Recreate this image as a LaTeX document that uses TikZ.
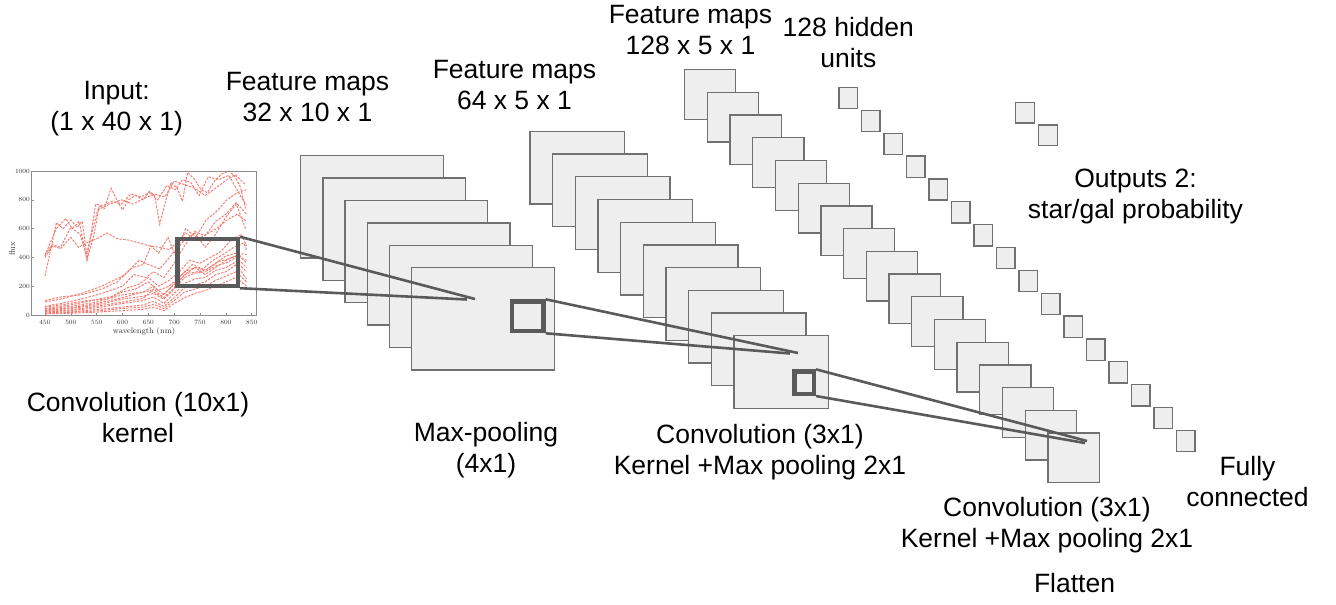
\documentclass[tikz,border=0pt]{standalone}
\usepackage{fontspec}
\newfontfamily\labelfont{Liberation Sans}
\usetikzlibrary{calc}
\definecolor{mapfill}{HTML}{EEEEEE}
\definecolor{mapline}{HTML}{707070}
\definecolor{kernline}{HTML}{5A5A5A}
\definecolor{spec}{RGB}{244,122,112}
\definecolor{axisgray}{HTML}{8C8C8C}

\begin{document}
\begin{tikzpicture}[x=1pt,y=-1pt,
  fmap/.style={draw=mapline, fill=mapfill, line width=1.3pt, inner sep=0pt, outer sep=0pt, rectangle},
  kern/.style={draw=kernline, line width=4.5pt, inner sep=0pt, rectangle, fill=none},
  link/.style={draw=kernline, line width=2.6pt},
  lbl/.style={font=\labelfont\fontsize{26.5}{31}\selectfont, align=center, inner sep=0pt, anchor=base},
  spectrum/.style={draw=spec, line width=0.95pt, dash pattern=on 2.4pt off 1.3pt},
  ticklbl/.style={font=\fontsize{6.5}{7}\selectfont, inner sep=0pt, text=black!80},
]
\useasboundingbox (0,0) rectangle (1336,605);

% ---------- input spectra plot ----------
\begin{scope}[shift={(-187.56,315)}, xscale=0.5168, yscale=-0.144]
  \draw[spectrum] plot coordinates {(450,270) (462,470) (472,640) (485,600) (500,660) (512,610) (522,650) (532,390) (545,560) (555,760) (565,740) (578,880) (590,790) (600,730) (612,800) (625,830) (640,800) (652,860) (662,830) (672,630) (684,800) (694,920) (706,880) (716,790) (726,990) (740,940) (752,870) (764,850) (778,930) (792,980) (806,1000) (818,960) (828,890) (838,740)};
  \draw[spectrum] plot coordinates {(450,410) (460,500) (472,600) (490,670) (503,600) (516,650) (531,380) (548,770) (562,760) (580,790) (598,770) (616,840) (636,820) (652,850) (668,800) (686,900) (702,870) (716,940) (732,920) (748,830) (766,960) (786,940) (806,970) (826,840) (840,760)};
  \draw[spectrum] plot coordinates {(450,420) (465,490) (480,470) (500,610) (518,560) (530,420) (552,730) (575,770) (598,800) (620,770) (642,810) (662,840) (682,820) (700,930) (720,905) (740,880) (760,830) (780,880) (800,935) (818,975) (838,905)};
  \draw[spectrum] plot coordinates {(450,400) (465,480) (480,460) (500,540) (515,470) (530,500) (550,530) (570,570) (590,530) (612,520) (632,500) (652,480) (672,470) (690,455) (705,500) (722,570) (742,520) (762,560) (782,600) (802,660) (822,700) (840,650)};
  \draw[spectrum] plot coordinates {(450,90) (480,110) (520,150) (560,200) (600,270) (620,330) (640,350) (655,480) (670,430) (688,540) (702,420) (722,600) (742,540) (762,660) (782,720) (802,800) (822,850) (840,870)};
  \draw[spectrum] plot coordinates {(450,60) (480,80) (520,110) (560,150) (600,200) (622,280) (645,260) (660,300) (680,260) (700,360) (720,480) (740,580) (760,550) (780,650) (800,700) (820,780) (840,700)};
  \draw[spectrum] plot coordinates {(450,100) (480,125) (520,140) (560,180) (590,230) (610,300) (632,380) (650,350) (672,320) (700,440) (720,520) (740,570) (760,470) (780,560) (800,680) (820,770) (838,600)};
  \draw[spectrum] plot coordinates {(450,45) (500,70) (540,100) (580,130) (610,190) (630,210) (650,260) (670,200) (690,240) (710,300) (730,380) (750,360) (770,400) (790,440) (810,520) (830,560) (840,480)};
  \draw[spectrum] plot coordinates {(450,40) (500,60) (550,90) (600,140) (640,160) (660,200) (680,140) (700,220) (720,300) (740,330) (760,280) (780,330) (800,380) (820,410) (840,380)};
  \draw[spectrum] plot coordinates {(450,25) (500,35) (550,60) (600,90) (640,115) (660,180) (680,120) (700,190) (720,280) (740,330) (760,310) (780,360) (800,410) (820,430) (840,420)};
  \draw[spectrum] plot coordinates {(450,30) (500,45) (550,70) (600,110) (640,130) (660,150) (680,110) (700,180) (720,260) (740,290) (760,300) (780,340) (800,360) (820,400) (840,330)};
  \draw[spectrum] plot coordinates {(450,20) (500,30) (550,50) (600,80) (640,100) (660,125) (680,80) (700,150) (720,220) (740,250) (760,260) (780,310) (800,330) (820,370) (840,300)};
  \draw[spectrum] plot coordinates {(450,15) (500,22) (550,38) (600,55) (640,70) (660,95) (680,60) (700,120) (720,190) (740,210) (760,230) (780,280) (800,300) (820,350) (840,250)};
  \draw[spectrum] plot coordinates {(450,8) (500,12) (550,20) (600,30) (640,40) (660,55) (680,30) (700,80) (720,120) (740,150) (760,170) (780,200) (800,230) (820,260) (840,200)};
  \draw[spectrum] plot coordinates {(450,55) (490,75) (530,100) (570,110) (600,160) (625,180) (650,230) (668,170) (690,200) (712,270) (735,350) (755,320) (775,380) (795,420) (815,470) (835,500) (840,450)};
  \draw[spectrum] plot coordinates {(450,10) (500,18) (550,28) (600,45) (640,55) (660,75) (680,45) (700,100) (720,160) (740,180) (760,200) (780,240) (800,270) (820,300) (840,230)};
  \draw[spectrum] plot coordinates {(450,35) (500,50) (550,80) (600,120) (630,150) (655,170) (675,130) (700,210) (725,290) (745,300) (765,320) (785,370) (805,390) (825,420) (840,360)};
\end{scope}

% axes frame, ticks and tick labels
\draw[axisgray, line width=0.8pt] (31.7,171) rectangle (256.7,315);
\foreach \w in {450,500,...,850} {
  \draw[axisgray, line width=0.6pt] ({-187.56+0.5168*\w},315) -- ++(0,-2.5);
  \node[ticklbl] at ({-187.56+0.5168*\w},322) {\w};
}
\foreach \f in {0,200,...,1000} {
  \draw[axisgray, line width=0.6pt] (31.7,{315-0.144*\f}) -- ++(2.5,0);
  \node[ticklbl, anchor=east] at (30,{315-0.144*\f}) {\f};
}
\node[font=\fontsize{8}{9}\selectfont, rotate=90, inner sep=0pt, text=black!80] (ylab) at (12,249) {flux};
\node[font=\fontsize{8}{9}\selectfont, inner sep=0pt, text=black!80] (xlab) at (144,331) {wavelength (nm)};

% ---------- feature map stacks ----------
\foreach \i in {0,...,5}
  \node[fmap, minimum width=142.7pt, minimum height=102.2pt] (a\i) at ({372+22.2*\i},{206.75+22.4*\i}) {};
\foreach \i in {0,...,9}
  \node[fmap, minimum width=94.7pt, minimum height=72.7pt] (b\i) at ({577.3+22.67*\i},{167.7+22.7*\i}) {};
\foreach \i in {0,...,16}
  \node[fmap, minimum width=51.2pt, minimum height=49.7pt] (c\i) at ({710.2+22.71*\i},{94.5+22.71*\i}) {};
% hidden units
\foreach \i in {0,...,15}
  \node[fmap, minimum width=18.7pt, minimum height=21.2pt] (h\i) at ({848.2+22.5*\i},{98.1+22.86*\i}) {};
% outputs
\foreach \i in {0,1}
  \node[fmap, minimum width=19.2pt, minimum height=20.7pt] (o\i) at ({1025+22.8*\i},{112.5+22.7*\i}) {};

% ---------- kernels and their receptive lines ----------
\node[kern, minimum width=60.5pt, minimum height=46.9pt] (k0) at (207.5,262.5) {};
\node[kern, minimum width=31.2pt, minimum height=29.5pt] (k1) at (527.8,316.3) {};
\node[kern, minimum width=19.2pt, minimum height=22.2pt] (k2) at (804.2,382.7) {};

\coordinate (t0a) at (475,299);
\coordinate (t0b) at (467,299.5);
\coordinate (t1a) at (798,353);
\coordinate (t1b) at (790,353.5);
\coordinate (t2a) at (1087,441);
\coordinate (t2b) at (1085,443);

\draw[link] (k0.north east) -- (t0a);
\draw[link] (k0.south east) -- (t0b);
\draw[link] (k1.north east) -- (t1a);
\draw[link] (k1.south east) -- (t1b);
\draw[link] (k2.north east) -- (t2a);
\draw[link] (k2.south east) -- (t2b);

% ---------- labels (anchored on the baseline of their last line) ----------
\node[lbl] (lin)  at (116.7,130.5)  {Input:\\(1 x 40 x 1)};
\node[lbl] (lf1)  at (307.5,121)    {Feature maps\\32 x 10 x 1};
\node[lbl] (lf2)  at (514.5,109.3)  {Feature maps\\64 x 5 x 1};
\node[lbl] (lf3)  at (690.5,54.3)   {Feature maps\\128 x 5 x 1};
\node[lbl] (lhid) at (848.3,67.2)   {128 hidden\\units};
\node[lbl] (lout) at (1135.5,218.8) {Outputs 2:\\star/gal probability};
\node[lbl] (lc1)  at (138,442.7)    {Convolution (10x1)\\kernel};
\node[lbl] (lmp)  at (486,472.2)    {Max-pooling\\(4x1)};
\node[lbl] (lc2)  at (760,474.3)    {Convolution (3x1)\\Kernel +Max pooling 2x1};
\node[lbl] (lfc)  at (1247.5,506.5) {Fully\\connected};
\node[lbl] (lc3)  at (1047,547.3)   {Convolution (3x1)\\Kernel +Max pooling 2x1};
\node[lbl] (lfl)  at (1074.5,592)   {Flatten};
\end{tikzpicture}
\end{document}
